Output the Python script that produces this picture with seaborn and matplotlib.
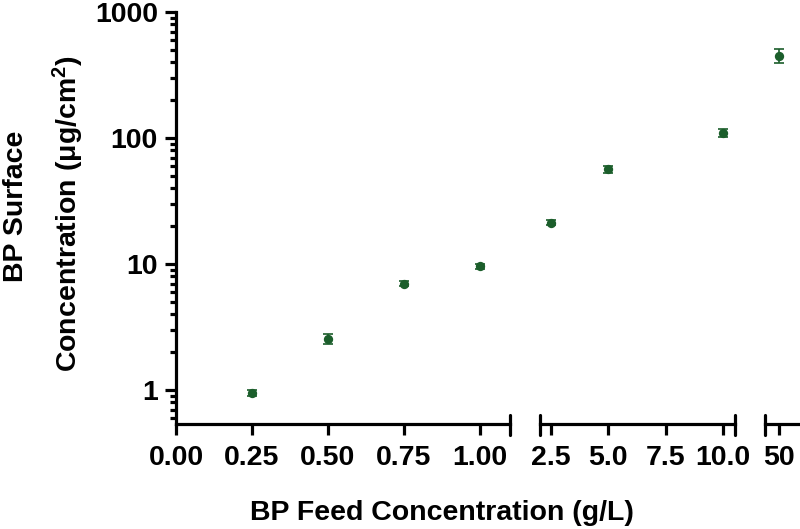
import numpy as np
import pandas as pd
import seaborn as sns
import matplotlib
matplotlib.use("Agg")
import matplotlib.pyplot as plt
import matplotlib.ticker as ticker

# data
feed = [0.25, 0.50, 0.75, 1.00, 2.5, 5.0, 10.0, 50.0]
surface = [0.95, 2.55, 7.0, 9.6, 21.4, 56.5, 110.0, 450.0]
surface_err = [0.05, 0.24, 0.3, 0.4, 1.0, 4.0, 8.0, 55.0]

seg_ticks = [[0.00, 0.25, 0.50, 0.75, 1.00], [2.5, 5.0, 7.5, 10.0], [50]]
seg_labels = [["0.00", "0.25", "0.50", "0.75", "1.00"], ["2.5", "5.0", "7.5", "10.0"], ["50"]]
seg_limits = [(0.0, 1.1), (2.02, 10.52), (49.4, 50.9)]

df = pd.DataFrame({"feed": feed, "surface": surface, "err": surface_err})

sns.set_theme(style="ticks")
plt.rcParams['font.family'] = ['Liberation Sans', 'DejaVu Sans']
plt.rcParams['font.weight'] = 'bold'
plt.rcParams['text.color'] = 'black'
plt.rcParams['axes.edgecolor'] = 'black'
plt.rcParams['xtick.color'] = 'black'
plt.rcParams['ytick.color'] = 'black'
plt.rcParams['mathtext.fontset'] = 'custom'
plt.rcParams['mathtext.bf'] = 'Liberation Sans:bold'
plt.rcParams['mathtext.rm'] = 'Liberation Sans:bold'
plt.rcParams['mathtext.default'] = 'bf'

green = '#1b5e2b'
lw = 2.3
fs = 20.5

fig = plt.figure(figsize=(8, 5.29), dpi=100)
bottom, height = 1 - 424/529, (424 - 12)/529
boxes = [(176/800, 334/800), (540/800, 195/800), (765/800, 35/800)]

axes = []
for i, (left, width) in enumerate(boxes):
    ax = fig.add_axes([left, bottom, width, height])
    lo, hi = seg_limits[i]
    sub = df[(df.feed >= lo) & (df.feed <= hi)]
    ax.errorbar(sub.feed, sub.surface, yerr=sub.err, fmt='none', ecolor=green,
                elinewidth=1.2, capsize=3.5, capthick=1.2, zorder=2)
    sns.scatterplot(data=sub, x="feed", y="surface", ax=ax, color=green, s=45,
                    edgecolor=green, linewidth=0, zorder=3, legend=False)
    ax.set_yscale('log')
    ax.set_ylim(0.54, 1000)
    ax.set_xlim(lo, hi)
    ax.set_xticks(seg_ticks[i])
    ax.set_xticklabels(seg_labels[i])
    ax.set_xlabel("")
    ax.set_ylabel("")
    for s in ['top', 'right']:
        ax.spines[s].set_visible(False)
    ax.spines['bottom'].set_linewidth(lw)
    ax.tick_params(axis='x', length=8, width=lw, labelsize=fs, pad=7, colors='black')
    if i == 0:
        ax.spines['left'].set_linewidth(lw)
        ax.yaxis.set_major_formatter(ticker.FuncFormatter(lambda v, p: f"{v:g}"))
        ax.yaxis.set_minor_locator(ticker.LogLocator(base=10, subs=np.arange(2, 10)))
        ax.yaxis.set_minor_formatter(ticker.NullFormatter())
        ax.tick_params(axis='y', which='major', length=8, width=lw, labelsize=fs, pad=5, colors='black')
        ax.tick_params(axis='y', which='minor', length=4, width=lw, colors='black')
    else:
        ax.spines['left'].set_visible(False)
        ax.tick_params(axis='y', which='both', left=False, labelleft=False)
    for lab in ax.get_xticklabels() + ax.get_yticklabels():
        lab.set_fontweight('bold')
    # break caps at segment ends
    ends = []
    if i > 0:
        ends.append(lo)
    if i < 2:
        ends.append(hi)
    for e in ends:
        ax.axvline(e, ymin=-0.026, ymax=0.022, color='black', lw=lw, clip_on=False)
    axes.append(ax)

fig.text(442/800, 1 - 513/529, "BP Feed Concentration (g/L)", ha='center', va='center',
         fontsize=20.5, fontweight='bold')
fig.text(16/800, 1 - 206/529, "BP Surface", rotation=90, ha='center', va='center',
         fontsize=20.5, fontweight='bold')
fig.text(68/800, 1 - 214/529, "Concentration (μg/cm$^{2}$)", rotation=90, ha='center',
         va='center', fontsize=20.5, fontweight='bold')

plt.savefig("out.png", dpi=100)
